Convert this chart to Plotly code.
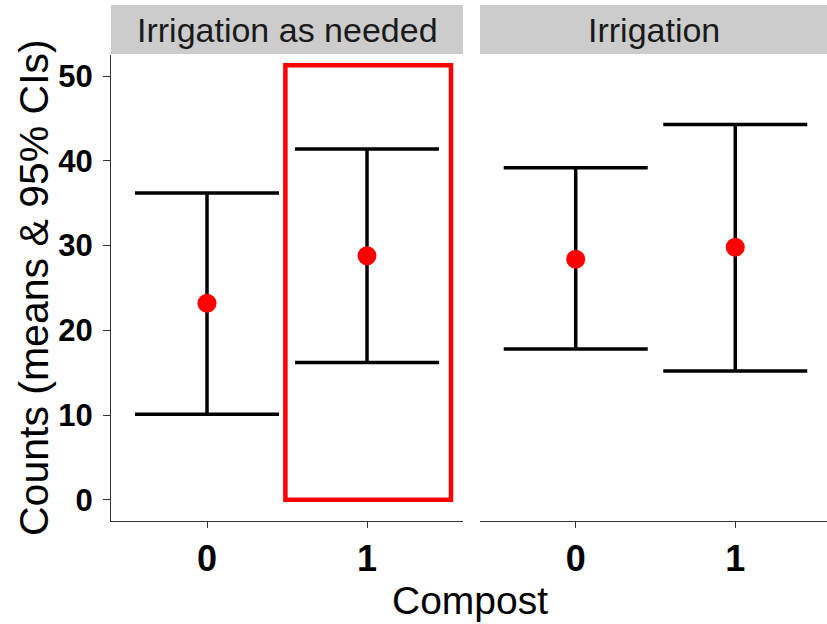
import plotly.graph_objects as go

# Compost level on the x axis, one panel per irrigation regime
compost = ["0", "1"]
facets = ["Irrigation as needed", "Irrigation"]

# Means and 95% confidence limits of the counts
mean_as_needed = [23.2, 28.8]
lower_as_needed = [10.1, 16.2]
upper_as_needed = [36.2, 41.4]

mean_irrigation = [28.4, 29.8]
lower_irrigation = [17.8, 15.2]
upper_irrigation = [39.2, 44.3]

y_ticks = [0, 10, 20, 30, 40, 50]

# Highlight frame around compost = 1 in the first panel (x span, y span)
highlight_x = [0.49, 1.525]
highlight_y = [0, 51.3]

W, H = 827, 624
FONT = "Liberation Sans, Arial, sans-serif"

# panel geometry in pixels
p1_left, p1_right = 111, 463
p2_left, p2_right = 480, 827
p_top, p_bottom = 55, 521
strip_top = 5


def px_x(v):
    return v / W


def px_y(v):
    return 1 - v / H


fig = go.Figure()

panels = [
    ("x", mean_as_needed, lower_as_needed, upper_as_needed),
    ("x2", mean_irrigation, lower_irrigation, upper_irrigation),
]
for xref, means, lows, highs in panels:
    fig.add_trace(go.Scatter(
        x=compost, y=means, xaxis=xref, yaxis="y", mode="markers",
        marker=dict(color="#ff0000", size=19, line=dict(width=0)),
        error_y=dict(
            type="data", symmetric=False,
            array=[h - m for h, m in zip(highs, means)],
            arrayminus=[m - l for m, l in zip(means, lows)],
            color="black", thickness=3.5, width=72,
        ),
        showlegend=False, hoverinfo="skip",
    ))

axis_common = dict(
    showgrid=False, zeroline=False, showline=True, linecolor="#333333",
    linewidth=1.3, ticks="outside", tickcolor="#333333", ticklen=6,
    tickwidth=1.3,
)

fig.update_layout(
    width=W, height=H,
    margin=dict(l=0, r=0, t=0, b=0),
    paper_bgcolor="white", plot_bgcolor="white",
    font=dict(family=FONT, color="black"),
    xaxis=dict(
        domain=[px_x(p1_left), px_x(p1_right)], anchor="y",
        type="category", range=[-0.6, 1.6],
        tickfont=dict(size=36, weight="bold", color="black"),
        **axis_common,
    ),
    xaxis2=dict(
        domain=[px_x(p2_left), px_x(p2_right)], anchor="y",
        type="category", range=[-0.6, 1.575],
        tickfont=dict(size=36, weight="bold", color="black"),
        **axis_common,
    ),
    yaxis=dict(
        domain=[px_y(p_bottom), px_y(p_top)], anchor="x",
        range=[-2.5, 52.5], tickvals=y_ticks,
        ticktext=[str(t) for t in y_ticks],
        tickfont=dict(size=31, weight="bold", color="black"),
        ticklabelstandoff=4,
        **{**axis_common, "ticklen": 7},
    ),
)

# facet strips
for (left, right), label in zip([(p1_left, p1_right), (p2_left, p2_right)], facets):
    fig.add_shape(
        type="rect", xref="paper", yref="paper",
        x0=px_x(left), x1=px_x(right), y0=px_y(p_top - 1), y1=px_y(strip_top),
        fillcolor="#cccccc", line=dict(width=0), layer="below",
    )
    fig.add_annotation(
        x=px_x((left + right) / 2), y=px_y((strip_top + p_top) / 2),
        xref="paper", yref="paper", text=label, showarrow=False,
        font=dict(size=34, color="#1a1a1a", family=FONT),
        xanchor="center", yanchor="middle",
    )

# highlight frame
fig.add_shape(
    type="rect", xref="x", yref="y",
    x0=highlight_x[0], x1=highlight_x[1], y0=highlight_y[0], y1=highlight_y[1],
    line=dict(color="#ff0000", width=4.5), fillcolor="rgba(0,0,0,0)",
)

# axis titles
fig.add_annotation(
    x=px_x(34), y=px_y(288), xref="paper", yref="paper",
    text="Counts (means & 95% CIs)", showarrow=False, textangle=-90,
    font=dict(size=41, color="black", family=FONT),
    xanchor="center", yanchor="middle",
)
fig.add_annotation(
    x=px_x(470), y=px_y(600), xref="paper", yref="paper",
    text="Compost", showarrow=False,
    font=dict(size=39, color="black", family=FONT),
    xanchor="center", yanchor="middle",
)

fig.write_html("out.html")
